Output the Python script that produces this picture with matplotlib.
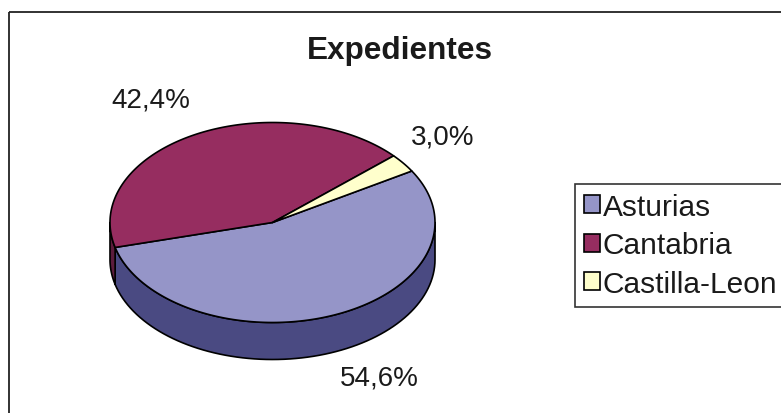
import numpy as np
import matplotlib
matplotlib.use("Agg")
import matplotlib.pyplot as plt
from matplotlib.patches import Polygon, Rectangle, Patch

plt.rcParams['font.family'] = ['Liberation Sans', 'DejaVu Sans']

titulo = "Expedientes"
regiones = ["Asturias", "Cantabria", "Castilla-Leon"]
valores = [54.6, 42.4, 3.0]
color_sup = ["#9595C8", "#962D60", "#FFFFCC"]
color_lat = ["#4A4A82", "#5C1C3C", "#A8A880"]

W, H = 781, 414
fig = plt.figure(figsize=(W / 100, H / 100), dpi=100)
ax = fig.add_axes([0, 0, 1, 1])
ax.set_xlim(0, W)
ax.set_ylim(H, 0)
ax.axis("off")

# marco del grafico (se sale por la derecha y por abajo)
ax.add_patch(Rectangle((9, 13), W, H, fill=False, ec="#222222", lw=1.3))

# tarta 3D: elipse superior + canto
cx, cy, ra, rb, prof = 272.5, 223.5, 162.5, 100, 37
inicio = 31.0


def punto(t, dy=0.0):
    t = np.radians(t)
    return cx + ra * np.cos(t), cy - rb * np.sin(t) + dy


total = sum(valores)
angs = []
a = inicio
for v in valores:
    b = a - v / total * 360.0
    angs.append((a, b))
    a = b

# canto visible (mitad delantera, angulos 180..360)
for (a1, a2), col in zip(angs, color_lat):
    hi, lo = a1, a2
    segs = []
    for k in (-360, 0, 360):
        s_lo, s_hi = max(lo + k, 180), min(hi + k, 360)
        if s_hi > s_lo:
            segs.append((s_lo, s_hi))
    for s_lo, s_hi in segs:
        ts = np.linspace(s_lo, s_hi, 80)
        arriba = [punto(t) for t in ts]
        abajo = [punto(t, prof) for t in ts[::-1]]
        ax.add_patch(Polygon(arriba + abajo, closed=True, fc=col, ec="black",
                             lw=1.2, joinstyle="round"))

# cara superior
for (a1, a2), col in zip(angs, color_sup):
    ts = np.linspace(a1, a2, 200)
    pts = [(cx, cy)] + [punto(t) for t in ts]
    ax.add_patch(Polygon(pts, closed=True, fc=col, ec="black", lw=1.2,
                         joinstyle="round"))

# etiquetas de porcentaje
pos_etiq = [(379, 379), (151, 101), (443, 138)]
for v, (x, y) in zip(valores, pos_etiq):
    txt = f"{v / total * 100:.1f}%".replace(".", ",")
    ax.text(x, y, txt, ha="center", va="center", fontsize=20, color="#1a1a1a")

ax.text(400, 51, titulo, ha="center", va="center", fontsize=22.7,
        fontweight="bold", color="#1a1a1a")

handles = [Patch(fc=c, ec="black", lw=1.2) for c in color_sup]
leg = fig.legend(handles, regiones, loc="upper left",
                 bbox_to_anchor=(575 / W, 1 - 185 / H), fontsize=21.5,
                 frameon=True, fancybox=False, edgecolor="black",
                 handlelength=0.55, handleheight=0.55, handletextpad=0.08,
                 labelspacing=0.35, borderpad=0.3, borderaxespad=0)
leg.get_frame().set_linewidth(1.2)
for t in leg.get_texts():
    t.set_color("#1a1a1a")

fig.savefig("out.png", dpi=100)
